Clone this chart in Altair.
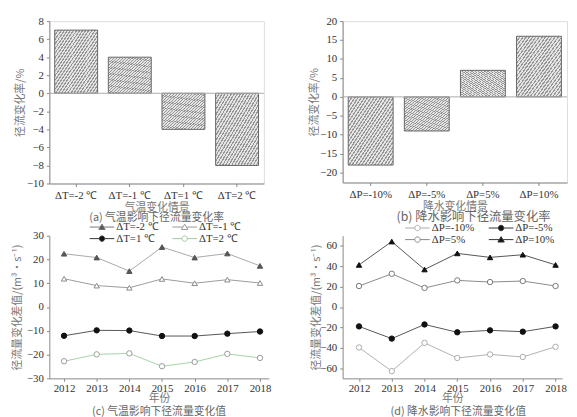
import altair as alt
import pandas as pd

# ---------------- data ----------------
temp_scen = ["ΔT=-2 ℃", "ΔT=-1 ℃", "ΔT=1 ℃", "ΔT=2 ℃"]
temp_rate = [7, 4, -4, -8]
prec_scen = ["ΔP=-10%", "ΔP=-5%", "ΔP=5%", "ΔP=10%"]
prec_rate = [-18, -9, 7, 16]

years = [2012, 2013, 2014, 2015, 2016, 2017, 2018]
t_m2 = [22.4, 20.8, 15.1, 25.2, 20.8, 22.5, 17.3]
t_m1 = [11.9, 9.0, 8.1, 11.8, 10.0, 11.5, 10.1]
t_p1 = [-12.1, -9.8, -9.9, -12.2, -12.2, -11.2, -10.3]
t_p2 = [-22.8, -19.9, -19.5, -24.9, -23.1, -19.7, -21.4]

p_m10 = [-39.7, -62.9, -35.2, -50.0, -46.5, -49.0, -39.0]
p_m5 = [-19.0, -31.0, -17.1, -24.8, -22.9, -24.2, -19.0]
p_p5 = [20.6, 32.6, 18.7, 26.1, 24.5, 25.5, 20.6]
p_p10 = [41.3, 64.2, 36.8, 52.6, 48.7, 51.3, 41.3]

# ---------------- styles ----------------
SERIF = "Liberation Serif"
CJK = "Noto Sans CJK SC"


def hatch(n=28, dark="#969696", light="#e4e4e4", frac=0.42):
    stops = []
    for i in range(n):
        a, b, c = i / n, (i + frac) / n, (i + 1) / n
        stops += [
            alt.GradientStop(offset=a, color=dark),
            alt.GradientStop(offset=b, color=dark),
            alt.GradientStop(offset=b, color=light),
            alt.GradientStop(offset=c, color=light),
        ]
    return alt.LinearGradient(gradient="linear", stops=stops, x1=0, y1=0, x2=1, y2=1)


def caption(text, dx=0, offset=1, size=11):
    return alt.TitleParams(text=text, orient="bottom", anchor="middle", font=CJK,
                           fontSize=size, fontWeight="normal", color="#666", offset=offset, dx=dx)


def bar_panel(scen, rate, xtitle, dom, ticks, cap, width, height, title_x, cap_dx=0, cap_size=11):
    df = pd.DataFrame({"scen": scen, "rate": rate})
    zdf = pd.DataFrame({"rate": [0]})
    x = alt.X("scen:N", sort=scen,
              scale=alt.Scale(paddingInner=0.2, paddingOuter=0.1),
              axis=alt.Axis(title=xtitle, labelAngle=0, titlePadding=1, labelPadding=3))
    y = alt.Y("rate:Q", scale=alt.Scale(domain=dom, nice=False, zero=False),
              axis=alt.Axis(title="径流变化率/%", values=ticks, titleX=title_x,
                            labelOverlap=False, labelSeparation=0))
    bars = alt.Chart(df).mark_bar(fill=hatch(), stroke="#666", strokeWidth=1).encode(x=x, y=y)
    zero = alt.Chart(zdf).mark_rule(color="#aaa", strokeWidth=1).encode(y=y)
    return alt.layer(bars, zero).properties(
        width=width, height=height, title=caption(cap, cap_dx, 0, cap_size),
        view=alt.ViewBackground(stroke="#dddddd", strokeWidth=1))


def line_panel(values, names, line_cols, fills, strokes, shapes, leg_paths, leg_strokes,
               xdom, ydom, yticks, cap, width, height, title_x, leg_x, leg_y, col_pad, cap_dx=0):
    rows = []
    for name, vals in zip(names, values):
        for yr, v in zip(years, vals):
            rows.append({"year": yr, "v": v, "s": name})
    df = pd.DataFrame(rows)
    x = alt.X("year:Q", scale=alt.Scale(domain=xdom, nice=False, zero=False),
              axis=alt.Axis(values=years, format="d", title="年份", titlePadding=0, labelPadding=1))
    y = alt.Y("v:Q", scale=alt.Scale(domain=ydom, nice=False, zero=False),
              axis=alt.Axis(values=yticks, title="径流量变化差值/(m³·s⁻¹)", titleX=title_x,
                            labelOverlap=False))
    lines = alt.Chart(df).mark_line(strokeWidth=1).encode(
        x=x, y=y,
        stroke=alt.Stroke("s:N", scale=alt.Scale(domain=names, range=line_cols), legend=None))
    pts = alt.Chart(df).mark_point(filled=True, strokeWidth=1, opacity=1).encode(
        x=x, y=y,
        shape=alt.Shape("s:N", scale=alt.Scale(domain=names, range=shapes), legend=None),
        fill=alt.Fill("s:N", scale=alt.Scale(domain=names, range=fills), legend=None),
        stroke=alt.Stroke("s:N", scale=alt.Scale(domain=names, range=strokes), legend=None),
        size=alt.value(30))
    leg = alt.Legend(orient="none", legendX=leg_x, legendY=leg_y, columns=2, direction="horizontal",
                     title=None, labelFont=SERIF, labelFontSize=11, labelColor="#333",
                     symbolSize=100, symbolStrokeWidth=1, symbolOpacity=1, padding=0,
                     rowPadding=0, columnPadding=col_pad, labelOffset=9)
    legl = alt.Chart(df).mark_point(filled=True, strokeWidth=1, opacity=0).encode(
        x=x, y=y,
        shape=alt.Shape("s:N", scale=alt.Scale(domain=names, range=leg_paths), legend=leg),
        fill=alt.Fill("s:N", scale=alt.Scale(domain=names, range=fills), legend=leg),
        stroke=alt.Stroke("s:N", scale=alt.Scale(domain=names, range=leg_strokes), legend=leg),
        size=alt.value(100))
    return alt.layer(lines, pts, legl).resolve_scale(
        stroke="independent", fill="independent", shape="independent"
    ).properties(width=width, height=height, title=caption(cap, cap_dx, 2))


TRI = "M-2.5,0H-0.4M0.4,0H2.5M0,-0.6L0.65,0.5L-0.65,0.5Z"
CIR = "M-2.5,0H-0.55M0.55,0H2.5M0.55,0A0.55,0.55,0,1,1,-0.55,0A0.55,0.55,0,1,1,0.55,0Z"

chart_a = bar_panel(temp_scen, temp_rate, "气温变化情景", [-10, 8], list(range(-10, 9, 2)),
                    "(a) 气温影响下径流量变化率", 218, 165, -24)
chart_b = bar_panel(prec_scen, prec_rate, "降水变化情景", [-22.6, 20], list(range(-20, 21, 5)),
                    "(b) 降水影响下径流量变化率", 228, 164, -24, cap_dx=19, cap_size=12.5)

chart_c = line_panel(
    [t_m2, t_m1, t_p1, t_p2], temp_scen,
    ["#a8a8a8", "#9a9a9a", "#555555", "#a6d2a6"],
    ["#555555", "#ffffff", "#111111", "#ffffff"],
    ["#555555", "#888888", "#111111", "#999999"],
    ["triangle-up", "triangle-up", "circle", "circle"],
    [TRI, TRI, CIR, CIR],
    ["#777777", "#999999", "#333333", "#9cc79c"],
    [2011.55, 2018.27], [-30, 30], list(range(-30, 31, 10)),
    "(c) 气温影响下径流量变化值", 223, 145, -27, 48, -14.5, 12)

chart_d = line_panel(
    [p_m10, p_m5, p_p5, p_p10], prec_scen,
    ["#b0b0b0", "#555555", "#8a8a8a", "#555555"],
    ["#ffffff", "#111111", "#ffffff", "#111111"],
    ["#aaaaaa", "#111111", "#777777", "#111111"],
    ["circle", "circle", "circle", "triangle-up"],
    [CIR, CIR, CIR, TRI],
    ["#aaaaaa", "#333333", "#888888", "#333333"],
    [2011.5, 2018.2], [-70, 70], list(range(-60, 61, 20)),
    "(d) 降水影响下径流量变化值", 223, 145, -22, 70.5, -13.5, 12, cap_dx=6)

chart = alt.concat(
    chart_a, chart_b, chart_c, chart_d, columns=2,
    spacing={"row": 53, "column": 75}, bounds="flush"
).properties(
    padding={"left": 3, "top": 3, "right": 0, "bottom": 0}
).configure_axis(
    labelFont=SERIF, labelFontSize=11, labelColor="#333", labelOverlap=False,
    titleFont=CJK, titleFontSize=11, titleColor="#777", titleFontWeight="normal",
    domainColor="#888", tickColor="#888", tickSize=3, grid=False, labelPadding=3
).configure_view(stroke="transparent")

chart.save("out.html", embed_options={"renderer": "svg", "actions": False})
